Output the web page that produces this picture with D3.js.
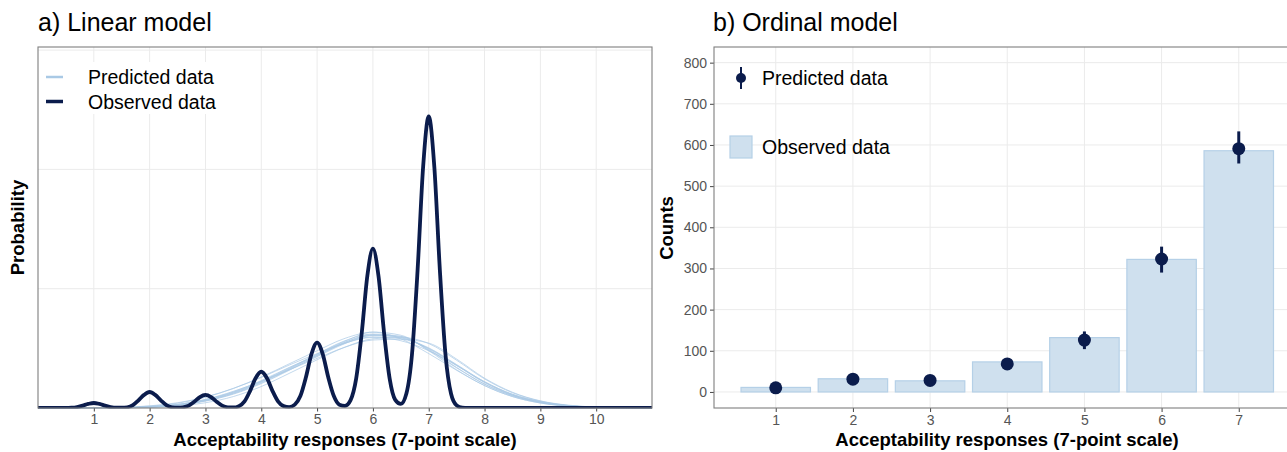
<!DOCTYPE html>
<meta charset="utf-8">
<head>
  <title>Linear vs ordinal model</title>
  <script src="https://cdn.jsdelivr.net/npm/d3@7"></script>
  <style>
    body { margin: 0; background: #fff; }
    text { font-family: "Liberation Sans", Arial, sans-serif; }
    .tick text { fill: #555; font-size: 14px; }
    .tick line { stroke: #444; }
    .domain { display: none; }
    .grid line { stroke: #ebebeb; stroke-width: 1; }
    .ttl { font-size: 25px; fill: #000; }
    .axt { font-size: 18.5px; font-weight: bold; fill: #000; }
    .leg { font-size: 19.5px; fill: #000; }
  </style>
</head>
<body>
<svg width="1287" height="452"></svg>
<script>

  // ---- a) linear model : density curves ----
  var obsStart = 0.5, obsStep = 0.1;   // observed density is read at 0.5, 0.6 ... 7.7
  var obsY = [0.000, 0.001, 0.004, 0.010, 0.017, 0.021, 0.017, 0.010, 0.004, 0.001,
              0.001, 0.003, 0.012, 0.032, 0.055, 0.067, 0.055, 0.032, 0.012, 0.003,
              0.001, 0.003, 0.010, 0.026, 0.046, 0.055, 0.046, 0.026, 0.010, 0.003,
              0.002, 0.008, 0.028, 0.072, 0.126, 0.152, 0.126, 0.072, 0.028, 0.008,
              0.004, 0.014, 0.050, 0.129, 0.227, 0.274, 0.227, 0.129, 0.050, 0.014,
              0.009, 0.033, 0.123, 0.315, 0.553, 0.668, 0.553, 0.315, 0.123, 0.034,
              0.017, 0.061, 0.225, 0.576, 1.012, 1.222, 1.012, 0.576, 0.225, 0.060,
              0.011, 0.001, 0.000];

  var predX = [0, 1.5, 2, 2.5, 3, 3.5, 4, 4.5, 5, 5.5, 6, 6.5, 7, 7.5, 8, 8.5, 9, 9.5, 10, 10.5, 11];
  var predY = [
    [0, 0.001, 0.004, 0.012, 0.030, 0.060, 0.105, 0.160, 0.215, 0.270, 0.305, 0.300, 0.245, 0.170, 0.100, 0.052, 0.024, 0.009, 0.003, 0.001, 0],
    [0, 0.001, 0.005, 0.014, 0.035, 0.068, 0.115, 0.170, 0.220, 0.272, 0.298, 0.290, 0.250, 0.180, 0.108, 0.056, 0.026, 0.010, 0.003, 0.001, 0],
    [0, 0.002, 0.008, 0.020, 0.045, 0.082, 0.130, 0.185, 0.240, 0.292, 0.318, 0.290, 0.228, 0.158, 0.094, 0.048, 0.021, 0.008, 0.002, 0.001, 0],
    [0, 0.001, 0.002, 0.008, 0.022, 0.048, 0.090, 0.145, 0.202, 0.255, 0.290, 0.296, 0.270, 0.200, 0.122, 0.064, 0.029, 0.011, 0.004, 0.001, 0],
    [0, 0.001, 0.004, 0.013, 0.032, 0.064, 0.110, 0.165, 0.225, 0.280, 0.318, 0.305, 0.240, 0.160, 0.094, 0.048, 0.021, 0.008, 0.002, 0.001, 0],
    [0, 0.003, 0.009, 0.022, 0.046, 0.082, 0.128, 0.180, 0.228, 0.272, 0.296, 0.282, 0.240, 0.178, 0.110, 0.058, 0.027, 0.010, 0.003, 0.001, 0],
    [0, 0.001, 0.004, 0.011, 0.029, 0.058, 0.102, 0.158, 0.218, 0.275, 0.308, 0.296, 0.248, 0.178, 0.106, 0.054, 0.024, 0.009, 0.003, 0.001, 0],
    [0, 0.001, 0.005, 0.015, 0.036, 0.070, 0.112, 0.160, 0.208, 0.255, 0.285, 0.288, 0.272, 0.205, 0.125, 0.066, 0.030, 0.012, 0.004, 0.001, 0],
    [0, 0.002, 0.006, 0.015, 0.034, 0.066, 0.112, 0.168, 0.226, 0.282, 0.310, 0.300, 0.242, 0.168, 0.100, 0.052, 0.023, 0.009, 0.003, 0.001, 0],
    [0, 0.001, 0.004, 0.012, 0.031, 0.062, 0.108, 0.163, 0.221, 0.276, 0.304, 0.294, 0.252, 0.182, 0.110, 0.056, 0.025, 0.009, 0.003, 0.001, 0]
  ];
  var xTicksA = [1, 2, 3, 4, 5, 6, 7, 8, 9, 10];
  var yGridA = [0.5, 1.0, 1.5];

  // ---- b) ordinal model : counts ----
  var cats = ["1", "2", "3", "4", "5", "6", "7"];
  var observed = [11, 32, 27, 73, 132, 322, 586];
  var predMean = [10, 31, 28, 68, 126, 323, 591];
  var predLow  = [4, 21, 19, 56, 104, 290, 555];
  var predHigh = [17, 41, 38, 82, 147, 353, 633];
  var yTicksB = [0, 100, 200, 300, 400, 500, 600, 700, 800];

  var navy = "#0b1c4c";
  var lightLine = "#a9c9e5";
  var barFill = "#cfe0ee";
  var barStroke = "#b5d0e7";

  var svg = d3.select("svg");

  // =========== panel a ===========
  var xa = d3.scaleLinear().domain([0, 11]).range([38, 652]);
  var ya = d3.scaleLinear().domain([0, 1.513]).range([408, 47]);

  var ga = svg.append("g");
  ga.append("clipPath").attr("id", "clipA")
    .append("rect").attr("x", 38).attr("y", 47).attr("width", 614).attr("height", 361.5);

  ga.append("g").attr("class", "grid")
    .selectAll("line").data(xTicksA).enter().append("line")
      .attr("x1", d => xa(d)).attr("x2", d => xa(d))
      .attr("y1", 47).attr("y2", 408);
  ga.append("g").attr("class", "grid")
    .selectAll("line").data(yGridA).enter().append("line")
      .attr("x1", 38).attr("x2", 652)
      .attr("y1", d => ya(d)).attr("y2", d => ya(d));

  var lineA = d3.line()
    .x(d => xa(d[0])).y(d => ya(d[1]))
    .curve(d3.curveMonotoneX);

  var curves = ga.append("g").attr("clip-path", "url(#clipA)");
  curves.selectAll("path.pred")
    .data(predY).enter().append("path")
      .attr("class", "pred")
      .attr("d", ys => lineA(ys.map((v, i) => [predX[i], v])))
      .attr("fill", "none")
      .attr("stroke", lightLine)
      .attr("stroke-opacity", 0.7)
      .attr("stroke-width", 1);

  var obsPts = [[0, 0]].concat(obsY.map((v, i) => [obsStart + i * obsStep, v]), [[11, 0]]);
  curves.append("path")
    .attr("d", lineA(obsPts))
    .attr("fill", "none")
    .attr("stroke", navy)
    .attr("stroke-width", 3.8)
    .attr("stroke-linejoin", "round");

  ga.append("g")
    .attr("transform", "translate(0,408)")
    .call(d3.axisBottom(xa).tickValues(xTicksA).tickSize(3.5).tickPadding(3));

  ga.append("rect")
    .attr("x", 38).attr("y", 47).attr("width", 614).attr("height", 361)
    .attr("fill", "none").attr("stroke", "#7f7f7f").attr("stroke-width", 1.1);

  // legend a
  ga.append("rect").attr("x", 40).attr("y", 62).attr("width", 190).attr("height", 52).attr("fill", "#fff");
  var legA = [{t: "Predicted data", c: lightLine, w: 2.5}, {t: "Observed data", c: navy, w: 3.5}];
  legA.forEach(function(d, i) {
    var y = 77 + i * 24.5;
    ga.append("line").attr("x1", 46).attr("x2", 63).attr("y1", y).attr("y2", y)
      .attr("stroke", d.c).attr("stroke-width", d.w);
    ga.append("text").attr("class", "leg").attr("x", 88).attr("y", y + 7).text(d.t);
  });

  svg.append("text").attr("class", "ttl").attr("x", 38).attr("y", 31).text("a) Linear model");
  svg.append("text").attr("class", "axt").attr("x", 345).attr("y", 446)
    .attr("text-anchor", "middle").text("Acceptability responses (7-point scale)");
  svg.append("text").attr("class", "axt")
    .attr("transform", "translate(24,227.5) rotate(-90)")
    .attr("text-anchor", "middle").text("Probability");

  // =========== panel b ===========
  var xb = d3.scalePoint().domain(cats).range([714, 1300.5]).padding(0.8);
  var yb = d3.scaleLinear().domain([-39, 838]).range([408, 47]);
  var bw = xb.step() * 0.9;

  var gb = svg.append("g");
  gb.append("g").attr("class", "grid")
    .selectAll("line").data(cats).enter().append("line")
      .attr("x1", d => xb(d)).attr("x2", d => xb(d))
      .attr("y1", 47).attr("y2", 408);
  gb.append("g").attr("class", "grid")
    .selectAll("line").data(yTicksB).enter().append("line")
      .attr("x1", 714).attr("x2", 1300.5)
      .attr("y1", d => yb(d)).attr("y2", d => yb(d));

  gb.selectAll("rect.bar")
    .data(cats).enter().append("rect")
      .attr("class", "bar")
      .attr("x", d => xb(d) - bw / 2)
      .attr("width", bw)
      .attr("y", (d, i) => yb(observed[i]))
      .attr("height", (d, i) => yb(0) - yb(observed[i]))
      .attr("fill", barFill)
      .attr("stroke", barStroke)
      .attr("stroke-width", 1.2);

  gb.selectAll("line.err")
    .data(cats).enter().append("line")
      .attr("class", "err")
      .attr("x1", d => xb(d)).attr("x2", d => xb(d))
      .attr("y1", (d, i) => yb(predLow[i]))
      .attr("y2", (d, i) => yb(predHigh[i]))
      .attr("stroke", navy).attr("stroke-width", 3);

  gb.selectAll("circle.pt")
    .data(cats).enter().append("circle")
      .attr("class", "pt")
      .attr("cx", d => xb(d))
      .attr("cy", (d, i) => yb(predMean[i]))
      .attr("r", 6.5)
      .attr("fill", navy);

  gb.append("g")
    .attr("transform", "translate(714,0)")
    .call(d3.axisLeft(yb).tickValues(yTicksB).tickSize(4).tickPadding(3));
  gb.append("g")
    .attr("transform", "translate(0,408)")
    .call(d3.axisBottom(xb).tickSize(4).tickPadding(3));

  gb.append("rect")
    .attr("x", 714).attr("y", 47).attr("width", 586.5).attr("height", 361)
    .attr("fill", "none").attr("stroke", "#7f7f7f").attr("stroke-width", 1.1);

  // legend b
  gb.append("line").attr("x1", 741).attr("x2", 741).attr("y1", 67).attr("y2", 89)
    .attr("stroke", navy).attr("stroke-width", 2);
  gb.append("circle").attr("cx", 741).attr("cy", 78).attr("r", 5).attr("fill", navy);
  gb.append("text").attr("class", "leg").attr("x", 762).attr("y", 85).text("Predicted data");
  gb.append("rect").attr("x", 730).attr("y", 136).attr("width", 22).attr("height", 22)
    .attr("fill", barFill).attr("stroke", barStroke).attr("stroke-width", 1.2);
  gb.append("text").attr("class", "leg").attr("x", 762).attr("y", 154).text("Observed data");

  svg.append("text").attr("class", "ttl").attr("x", 713).attr("y", 31).text("b) Ordinal model");
  svg.append("text").attr("class", "axt").attr("x", 1007).attr("y", 446)
    .attr("text-anchor", "middle").text("Acceptability responses (7-point scale)");
  svg.append("text").attr("class", "axt")
    .attr("transform", "translate(673,228) rotate(-90)")
    .attr("text-anchor", "middle").text("Counts");

</script>
</body>
</html>
